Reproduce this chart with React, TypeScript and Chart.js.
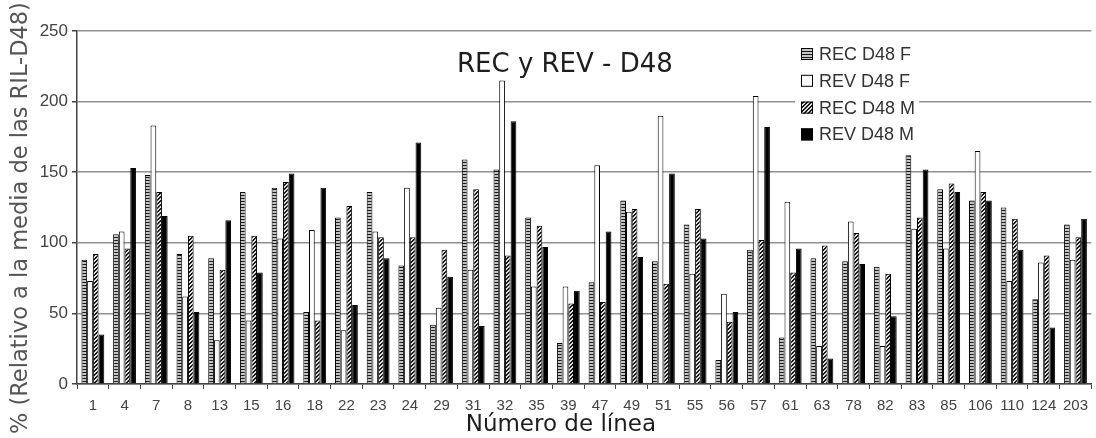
import React, { useEffect, useRef } from "react";
import { Chart, registerables } from "chart.js";

Chart.register(...registerables);

const categories = ["1", "4", "7", "8", "13", "15", "16", "18", "22", "23", "24", "29", "31", "32", "35", "39", "47", "49", "51", "55", "56", "57", "61", "63", "78", "82", "83", "85", "106", "110", "124", "203"];

const recF = [88, 106, 148, 92, 89, 136, 139, 51, 118, 136, 84, 42, 159, 152, 118, 29, 72, 130, 87, 113, 17, 95, 33, 89, 87, 83, 162, 138, 130, 125, 60, 113];
const revF = [73, 108, 183, 62, 31, 45, 103, 109, 38, 108, 139, 54, 81, 215, 69, 69, 155, 122, 190, 78, 64, 204, 129, 27, 115, 27, 110, 96, 165, 73, 86, 88];
const recM = [92, 96, 136, 105, 81, 105, 143, 45, 126, 104, 104, 95, 138, 91, 112, 57, 58, 124, 71, 124, 44, 102, 79, 98, 107, 78, 118, 142, 136, 117, 91, 104];
const revM = [35, 153, 119, 51, 116, 79, 149, 139, 56, 89, 171, 76, 41, 186, 97, 66, 108, 90, 149, 103, 51, 182, 96, 18, 85, 48, 152, 136, 130, 95, 40, 117];

const seriesNames = ["REC D48 F", "REV D48 F", "REC D48 M", "REV D48 M"];
const yTicks = [0, 50, 100, 150, 200, 250];

const chartTitle = "REC y REV - D48";
const xTitle = "Número de línea";
const yTitle = "% (Relativo a la media de las RIL-D48)";

function makeHorizPattern(): CanvasPattern | string {
  const c = document.createElement("canvas");
  c.width = 4;
  c.height = 3;
  const g = c.getContext("2d");
  if (!g) return "#888";
  g.fillStyle = "#c4c4c4";
  g.fillRect(0, 0, 4, 3);
  g.fillStyle = "#1a1a1a";
  g.fillRect(0, 0, 4, 1);
  return g.createPattern(c, "repeat") || "#888";
}

function makeDiagPattern(): CanvasPattern | string {
  const c = document.createElement("canvas");
  c.width = 4;
  c.height = 4;
  const g = c.getContext("2d");
  if (!g) return "#666";
  g.fillStyle = "#e0e0e0";
  g.fillRect(0, 0, 4, 4);
  g.fillStyle = "#161616";
  for (let x = 0; x < 4; x++) {
    for (let y = 0; y < 4; y++) {
      if ((x + y) % 4 < 2) g.fillRect(x, y, 1, 1);
    }
  }
  return g.createPattern(c, "repeat") || "#666";
}

export default function App() {
  const ref = useRef<HTMLCanvasElement | null>(null);

  useEffect(() => {
    if (!ref.current) return;
    const pHoriz = makeHorizPattern();
    const pDiag = makeDiagPattern();
    const fills = [pHoriz, "#ffffff", pDiag, "#000000"];
    const values = [recF, revF, recM, revM];

    const overlay = {
      id: "overlay",
      afterDatasetsDraw(chart: any) {
        const { ctx, chartArea: a } = chart;
        const w = a.right - a.left;
        const h = a.bottom - a.top;
        ctx.save();
        // chart title inside plot
        ctx.font = '26px "DejaVu Sans"';
        ctx.fillStyle = "#1e1e1e";
        ctx.textAlign = "center";
        ctx.textBaseline = "middle";
        ctx.fillText(chartTitle, a.left + w * 0.481, a.top + 34);

        // x axis title
        ctx.font = '23px "DejaVu Sans"';
        ctx.fillStyle = "#1e1e1e";
        ctx.fillText(xTitle, a.left + w * 0.477, a.bottom + 41);

        // y axis title
        ctx.save();
        ctx.translate(a.left - 56, a.top + h * 0.53);
        ctx.rotate(-Math.PI / 2);
        ctx.font = '22.5px "DejaVu Sans"';
        ctx.fillStyle = "#555";
        ctx.fillText(yTitle, 0, 0);
        ctx.restore();

        // legend
        const lx = a.left + 718;
        const ly = a.top + 9;
        ctx.fillStyle = "#ffffff";
        ctx.fillRect(lx, ly, 124, 108);
        ctx.font = '18px "Liberation Sans", Arial, sans-serif';
        ctx.textAlign = "left";
        ctx.textBaseline = "middle";
        for (let i = 0; i < seriesNames.length; i++) {
          const cy = a.top + 23 + i * 26.8;
          const bx = a.left + 724;
          ctx.fillStyle = fills[i] as any;
          ctx.fillRect(bx, cy - 6, 12, 12);
          ctx.strokeStyle = "#000";
          ctx.lineWidth = 1;
          ctx.strokeRect(bx + 0.5, cy - 5.5, 11, 11);
          ctx.fillStyle = "#333";
          ctx.fillText(seriesNames[i], a.left + 742, cy + 1);
        }
        ctx.restore();
      },
    };

    const chart = new Chart(ref.current, {
      type: "bar",
      data: {
        labels: categories,
        datasets: seriesNames.map((name, i) => ({
          label: name,
          data: values[i],
          backgroundColor: fills[i] as any,
          borderColor: "#000",
          borderWidth: 1,
          borderSkipped: "bottom" as any,
          categoryPercentage: 0.72,
          barPercentage: 1.0,
        })),
      },
      options: {
        responsive: false,
        animation: false,
        layout: { padding: { top: 31, right: 0, bottom: 0, left: 0 } },
        plugins: {
          legend: { display: false },
          tooltip: { enabled: false },
          title: { display: false },
        },
        scales: {
          x: {
            type: "category",
            afterFit: (s: any) => {
              s.height = 54;
            },
            grid: {
              display: true,
              offset: true,
              drawOnChartArea: false,
              drawTicks: true,
              tickLength: 5,
              color: "#444",
              tickColor: "#444",
            },
            border: { display: true, color: "#444", width: 1.5 },
            ticks: {
              color: "#444",
              font: { family: '"Liberation Sans", Arial, sans-serif', size: 15 },
              padding: 8,
              maxRotation: 0,
              autoSkip: false,
            },
          },
          y: {
            min: 0,
            max: 250,
            afterFit: (s: any) => {
              s.width = 77;
            },
            afterBuildTicks: (s: any) => {
              s.ticks = yTicks.map((v) => ({ value: v }));
            },
            grid: {
              color: "#909090",
              lineWidth: 1.5,
              drawTicks: true,
              tickLength: 5,
              tickColor: "#444",
            },
            border: { display: true, color: "#444", width: 1.5 },
            ticks: {
              color: "#444",
              font: { family: '"Liberation Sans", Arial, sans-serif', size: 17 },
              padding: 4,
            },
          },
        },
      },
      plugins: [overlay],
    });
    return () => chart.destroy();
  }, []);

  return (
    <div style={{ position: "fixed", left: 0, top: 0, width: 1096, height: 438, background: "#fff" }}>
      <canvas ref={ref} width={1096} height={438} />
    </div>
  );
}
